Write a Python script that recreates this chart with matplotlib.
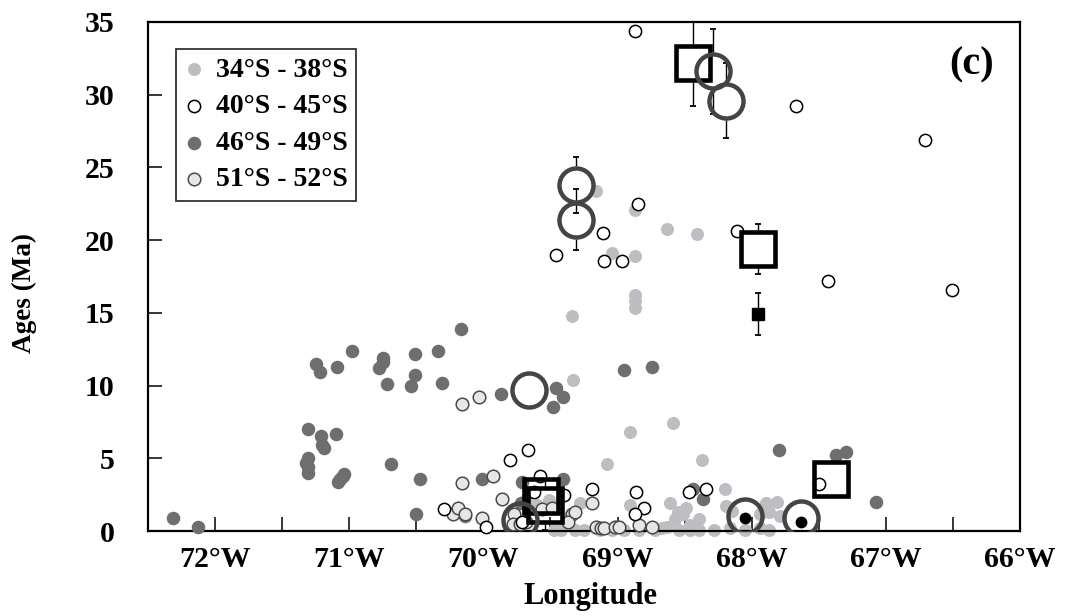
import numpy as np
import matplotlib.pyplot as plt
from matplotlib.ticker import MultipleLocator, FuncFormatter

plt.rcParams['font.family'] = ['Liberation Serif', 'DejaVu Serif']
plt.rcParams['font.weight'] = 'bold'

# 34S - 38S (light grey dots)
lon_3438 = [-69.16, -68.87, -68.63, -68.41, -69.04, -68.87, -68.87, -68.87, -68.87, -69.34,
            -69.33, -68.59, -68.91, -69.08, -68.37, -68.20, -68.61, -68.55, -68.49, -68.39,
            -68.63, -68.57, -69.28, -68.91, -69.35, -68.51, -68.46, -67.89, -67.81, -67.87,
            -67.79, -67.94, -68.19, -68.15, -69.68, -69.60, -69.51,
            -69.47, -69.42, -69.32, -69.25, -69.13, -69.04, -68.95, -68.84, -68.72, -68.67,
            -68.54, -68.46, -68.39, -68.28, -68.16, -68.05, -67.94, -67.87]
age_3438 = [23.4, 22.1, 20.8, 20.4, 19.1, 18.9, 16.2, 15.8, 15.3, 14.8,
            10.4, 7.4, 6.8, 4.6, 4.9, 2.9, 1.9, 1.3, 1.6, 0.8,
            0.3, 0.8, 1.9, 1.8, 1.2, 1.2, 0.4, 1.9, 2.0, 1.3,
            1.0, 1.2, 1.7, 1.4, 2.1, 1.8, 2.1,
            0.1, 0.1, 0.1, 0.1, 0.1, 0.1, 0.1, 0.1, 0.1, 0.2,
            0.1, 0.1, 0.1, 0.1, 0.2, 0.1, 0.2, 0.1]

# 40S - 45S (open circles)
lon_4045 = [-68.87, -67.67, -66.71, -68.85, -69.11, -69.46, -69.10, -68.97, -68.11, -67.43,
            -66.51, -67.50, -69.19, -68.86, -68.80, -68.87, -68.47, -68.34, -69.40, -69.67,
            -69.80, -69.58, -70.29, -69.98, -69.71, -69.62]
age_4045 = [34.4, 29.2, 26.9, 22.5, 20.5, 19.0, 18.6, 18.6, 20.6, 17.2,
            16.6, 3.2, 2.9, 2.7, 1.6, 1.2, 2.7, 2.9, 2.5, 5.6,
            4.9, 3.8, 1.5, 0.3, 0.6, 2.7]

# 46S - 49S (dark grey dots)
lon_4649 = [-72.31, -72.13, -71.25, -71.22, -71.09, -70.98, -70.75, -70.75, -70.78, -70.72,
            -70.51, -70.51, -70.54, -70.34, -70.31, -70.17, -69.87, -69.46, -69.41, -69.48,
            -68.95, -68.74, -71.31, -71.21, -71.10, -71.20, -71.19, -71.31, -71.32, -71.31,
            -71.31, -71.05, -71.07, -71.08, -71.04, -70.69, -70.47, -70.50, -70.01, -69.71,
            -69.41, -70.14, -67.80, -67.37, -67.30, -67.07, -68.36, -68.44, -69.72]
age_4649 = [0.9, 0.3, 11.5, 10.9, 11.3, 12.4, 11.9, 11.6, 11.2, 10.1,
            12.2, 10.7, 10.0, 12.4, 10.2, 13.9, 9.4, 9.8, 9.2, 8.5,
            11.1, 11.3, 7.0, 6.5, 6.7, 5.9, 5.7, 5.0, 4.7, 4.4,
            4.0, 3.8, 3.6, 3.4, 3.9, 4.6, 3.6, 1.2, 3.6, 3.4,
            3.6, 1.0, 5.6, 5.2, 5.4, 2.0, 2.2, 2.9, 1.9]

# 51S - 52S (pale dots with dark edge)
lon_5152 = [-70.16, -70.03, -70.16, -69.93, -69.86, -70.23, -70.19, -70.14, -70.01, -69.77,
            -69.78, -69.73, -69.68, -69.56, -69.49, -69.34, -69.37, -69.32, -69.19, -69.16,
            -69.12, -69.10, -69.02, -68.99, -68.84, -68.74]
age_5152 = [8.7, 9.2, 3.3, 3.8, 2.2, 1.2, 1.6, 1.2, 0.9, 1.2,
            0.5, 0.5, 0.6, 1.5, 1.6, 1.2, 0.6, 1.3, 1.9, 0.3,
            0.2, 0.2, 0.3, 0.3, 0.4, 0.3]

# large open circles with age uncertainty
circ_lon = [-68.29, -68.19, -69.31, -69.31, -69.66, -69.73, -68.05, -67.63]
circ_age = [31.6, 29.6, 23.8, 21.4, 9.7, 0.75, 1.0, 0.9]
circ_err = [2.9, 2.6, 1.9, 2.1, 0, 0, 0, 0]

# large open squares with age uncertainty
sq_lon = [-68.44, -67.95, -69.57, -69.54, -67.41]
sq_age = [32.2, 19.4, 2.4, 1.8, 3.6]
sq_err = [3.0, 1.7, 0, 1.7, 0]

# small black square and black dots
bsq_lon = [-67.95]
bsq_age = [14.9]
bsq_err = [1.45]
dot_lon = [-68.05, -67.63]
dot_age = [0.9, 0.6]

labels = ['34°S - 38°S', '40°S - 45°S', '46°S - 49°S', '51°S - 52°S']

fig = plt.figure(figsize=(10.66, 6.16), dpi=100)
ax = fig.add_axes([148 / 1066, 1 - 531 / 616, 872 / 1066, 509 / 616])
ax.set_xlim(-72.5, -66)
ax.set_ylim(0, 35)

s1 = ax.scatter(lon_3438, age_3438, s=88, color='#bebec2', linewidths=0, zorder=2, clip_on=False)
s3 = ax.scatter(lon_4649, age_4649, s=95, color='#6e6e6e', linewidths=0, zorder=3, clip_on=False)
s4 = ax.scatter(lon_5152, age_5152, s=82, facecolor='#e6e6e8', edgecolor='#4a4a4a',
                linewidths=1.1, zorder=4, clip_on=False)
s2 = ax.scatter(lon_4045, age_4045, s=78, facecolor='white', edgecolor='black',
                linewidths=1.1, zorder=5, clip_on=False)


def bars(x, y, err, ms, mew, z):
    # error bars that start at the marker edge
    p0, p1 = ax.transData.transform([(0, 0), (0, 1)])
    per_unit = p1[1] - p0[1]
    r = (ms / 2 + mew / 2) * fig.dpi / 72 / per_unit
    for xi, yi, ei in zip(x, y, err):
        if ei <= r:
            continue
        ax.vlines([xi, xi], [yi + r, yi - ei], [yi + ei, yi - r], color='black', lw=1.0, zorder=z)
        ax.plot([xi, xi], [yi + ei, yi - ei], ls='none', marker='_', ms=4.5, mew=1.3,
                color='black', zorder=z)


bars(circ_lon, circ_age, circ_err, 24.5, 3.2, 6)
bars(sq_lon, sq_age, sq_err, 24, 3.3, 6)
bars(bsq_lon, bsq_age, bsq_err, 8.5, 0, 6)

ax.plot(sq_lon, sq_age, ls='none', marker='s', ms=24, mfc='none', mec='black', mew=3.3, zorder=7)
ax.plot(circ_lon, circ_age, ls='none', marker='o', ms=24.5, mfc='none', mec='#444444', mew=3.2, zorder=8)
ax.plot(bsq_lon, bsq_age, ls='none', marker='s', ms=8.5, color='black', zorder=8)
ax.plot(dot_lon, dot_age, ls='none', marker='o', ms=7.5, color='black', zorder=8)

ax.xaxis.set_major_locator(MultipleLocator(1))
ax.xaxis.set_minor_locator(MultipleLocator(0.5))
ax.xaxis.set_major_formatter(FuncFormatter(lambda v, p: f'{abs(v):.0f}°W'))
ax.yaxis.set_major_locator(MultipleLocator(5))
ax.tick_params(axis='both', which='both', direction='in', length=10, width=1.1, labelsize=21.5)
ax.tick_params(axis='x', pad=11)
ax.tick_params(axis='y', pad=24)
for sp in ax.spines.values():
    sp.set_linewidth(1.6)

ax.set_xlabel('Longitude', fontsize=22, fontweight='bold')
ax.xaxis.set_label_coords(0.507, -0.128)
ax.xaxis.label.set_verticalalignment('center')
ax.set_ylabel('Ages (Ma)', fontsize=19.5, fontweight='bold')
ax.yaxis.set_label_coords(-0.142, 0.468)
ax.yaxis.label.set_verticalalignment('center')

ax.text(0.945, 0.915, '(c)', transform=ax.transAxes, fontsize=29, fontweight='bold',
        ha='center', va='center')

leg = ax.legend([s1, s2, s3, s4], labels, loc='upper left', bbox_to_anchor=(0.032, 0.947),
                borderaxespad=0, fancybox=False, edgecolor='#333333', framealpha=1,
                prop=dict(size=20, weight='bold'), handlelength=0.7, handletextpad=0.45,
                labelspacing=0.4, borderpad=0.3, scatterpoints=1)
leg.get_frame().set_linewidth(1.3)
leg.set_zorder(10)

fig.savefig('out.png', dpi=100)
